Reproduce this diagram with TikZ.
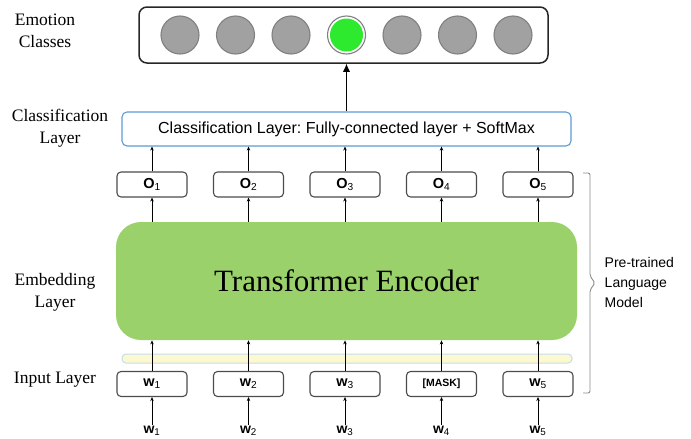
\documentclass[tikz,border=0pt]{standalone}
\usepackage{fontspec}
\setmainfont{Liberation Serif}
\setsansfont{Liberation Sans}
\usetikzlibrary{arrows.meta}
\frenchspacing

\definecolor{encgreen}{HTML}{9AD16B}
\definecolor{hitgreen}{HTML}{2EEA2E}
\definecolor{clsblue}{HTML}{5B9BD5}
\definecolor{barfill}{HTML}{FDF9CF}
\definecolor{barline}{HTML}{C5DCEF}

\begin{document}
\begin{tikzpicture}[
  x=1pt, y=-1pt, % pixel grid of the drawing
  >={Stealth[length=4pt,width=3.5pt]}, % arrow head style
  line width=0.8pt
  ]

  \tikzstyle{layerlabel}=[
    font=\fontsize{17.5}{22}\selectfont,
    align=center
  ]
  \tikzstyle{tokenbox}=[
    draw=black!70,
    line width=1.1pt,
    rounded corners=4pt,
    minimum width=70pt,
    minimum height=25pt,
    inner sep=0pt,
    font=\sffamily\fontsize{14.5}{16}\selectfont
  ]
  \tikzstyle{classdot}=[
    shape=circle,
    draw=black!50,
    line width=1.1pt,
    fill=black!37,
    minimum size=38pt,
    inner sep=0pt
  ]

\useasboundingbox (0,0) rectangle (691,439);

% left column
\node[layerlabel] (LE) at (45,31) {Emotion\\Classes};
\node[layerlabel] (LC) at (60,128) {Classification\\Layer};
\node[layerlabel] (LM) at (55,292) {Embedding\\Layer};
\node[layerlabel] (LI) at (55,380) {Input Layer};

% emotion classes
\node[draw=black!85,line width=1.5pt,rounded corners=8pt,minimum width=409pt,minimum height=56pt] (CL) at (343.5,35) {};
\node[classdot] (C1) at (180,35) {};
\node[classdot] (C2) at (235.5,35) {};
\node[classdot] (C3) at (291,35) {};
\node[classdot,fill=white] (C4) at (346.5,35) {};
\node[shape=circle,fill=hitgreen,minimum size=33pt,inner sep=0pt] (G) at (C4) {};
\node[classdot] (C5) at (402,35) {};
\node[classdot] (C6) at (457.5,35) {};
\node[classdot] (C7) at (513,35) {};

% classification layer
\node[draw=clsblue,line width=1.1pt,rounded corners=5pt,minimum width=449pt,minimum height=34pt,
  font=\sffamily\fontsize{16}{18}\selectfont] (CLS) at (346.5,129) {Classification Layer: Fully-connected layer + SoftMax};

% outputs
\node[tokenbox] (O1) at (152,184.5) {\textbf{O}\textsubscript{1}};
\node[tokenbox] (O2) at (248.5,184.5) {\textbf{O}\textsubscript{2}};
\node[tokenbox] (O3) at (345,184.5) {\textbf{O}\textsubscript{3}};
\node[tokenbox] (O4) at (441.5,184.5) {\textbf{O}\textsubscript{4}};
\node[tokenbox] (O5) at (538,184.5) {\textbf{O}\textsubscript{5}};

% encoder
\node[fill=encgreen,rounded corners=25pt,minimum width=461pt,minimum height=118pt,
  font=\fontsize{31}{36}\selectfont] (ENC) at (346.5,281) {Transformer Encoder};
\node[draw=barline,fill=barfill,line width=1pt,rounded corners=4pt,minimum width=450pt,minimum height=9pt,inner sep=0pt] (BAR) at (347,358.5) {};

% inputs
\node[tokenbox] (I1) at (152,384) {\textbf{w}\textsubscript{1}};
\node[tokenbox] (I2) at (248.5,384) {\textbf{w}\textsubscript{2}};
\node[tokenbox] (I3) at (345,384) {\textbf{w}\textsubscript{3}};
\node[tokenbox,font=\sffamily\bfseries\fontsize{10.5}{12}\selectfont] (I4) at (441.5,384) {[MASK]};
\node[tokenbox] (I5) at (538,384) {\textbf{w}\textsubscript{5}};

\node[font=\sffamily\fontsize{14}{16}\selectfont,inner sep=1pt] (W1) at (152,431) {\textbf{w}\textsubscript{1}};
\node[font=\sffamily\fontsize{14}{16}\selectfont,inner sep=1pt] (W2) at (248.5,431) {\textbf{w}\textsubscript{2}};
\node[font=\sffamily\fontsize{14}{16}\selectfont,inner sep=1pt] (W3) at (345,431) {\textbf{w}\textsubscript{3}};
\node[font=\sffamily\fontsize{14}{16}\selectfont,inner sep=1pt] (W4) at (441.5,431) {\textbf{w}\textsubscript{4}};
\node[font=\sffamily\fontsize{14}{16}\selectfont,inner sep=1pt] (W5) at (538,431) {\textbf{w}\textsubscript{5}};

% pre-trained model bracket
\coordinate (BT) at (583,173);
\coordinate (BB) at (583,393);
\draw[black!45,line width=0.9pt,rounded corners=2pt] (BT) -- ++(7,0) -- ++(0,103) -- ++(5,7) -- ++(-5,7) -- ++(0,103) -- (BB);
\node[anchor=west,align=left,font=\sffamily\fontsize{14}{20}\selectfont] (PLM) at (601,282) {Pre-trained\\Language\\Model};

% arrows
\draw[->,>={Latex[length=8pt,width=7pt]}] (CLS.north -| G) -- (CL.south -| G);

 \draw [->] (O1.north) -- (O1.north |- CLS.south);
 \draw [->] (O2.north) -- (O2.north |- CLS.south);
 \draw [->] (O3.north) -- (O3.north |- CLS.south);
 \draw [->] (O4.north) -- (O4.north |- CLS.south);
 \draw [->] (O5.north) -- (O5.north |- CLS.south);

 \draw [->] (ENC.north -| O1) -- (O1.south);
 \draw [->] (ENC.north -| O2) -- (O2.south);
 \draw [->] (ENC.north -| O3) -- (O3.south);
 \draw [->] (ENC.north -| O4) -- (O4.south);
 \draw [->] (ENC.north -| O5) -- (O5.south);

 \draw [->] (I1.north) -- (I1.north |- ENC.south);
 \draw [->] (I2.north) -- (I2.north |- ENC.south);
 \draw [->] (I3.north) -- (I3.north |- ENC.south);
 \draw [->] (I4.north) -- (I4.north |- ENC.south);
 \draw [->] (I5.north) -- (I5.north |- ENC.south);

 \draw [->] (W1.north) -- (I1.south);
 \draw [->] (W2.north) -- (I2.south);
 \draw [->] (W3.north) -- (I3.south);
 \draw [->] (W4.north) -- (I4.south);
 \draw [->] (W5.north) -- (I5.south);
\end{tikzpicture}
\end{document}
